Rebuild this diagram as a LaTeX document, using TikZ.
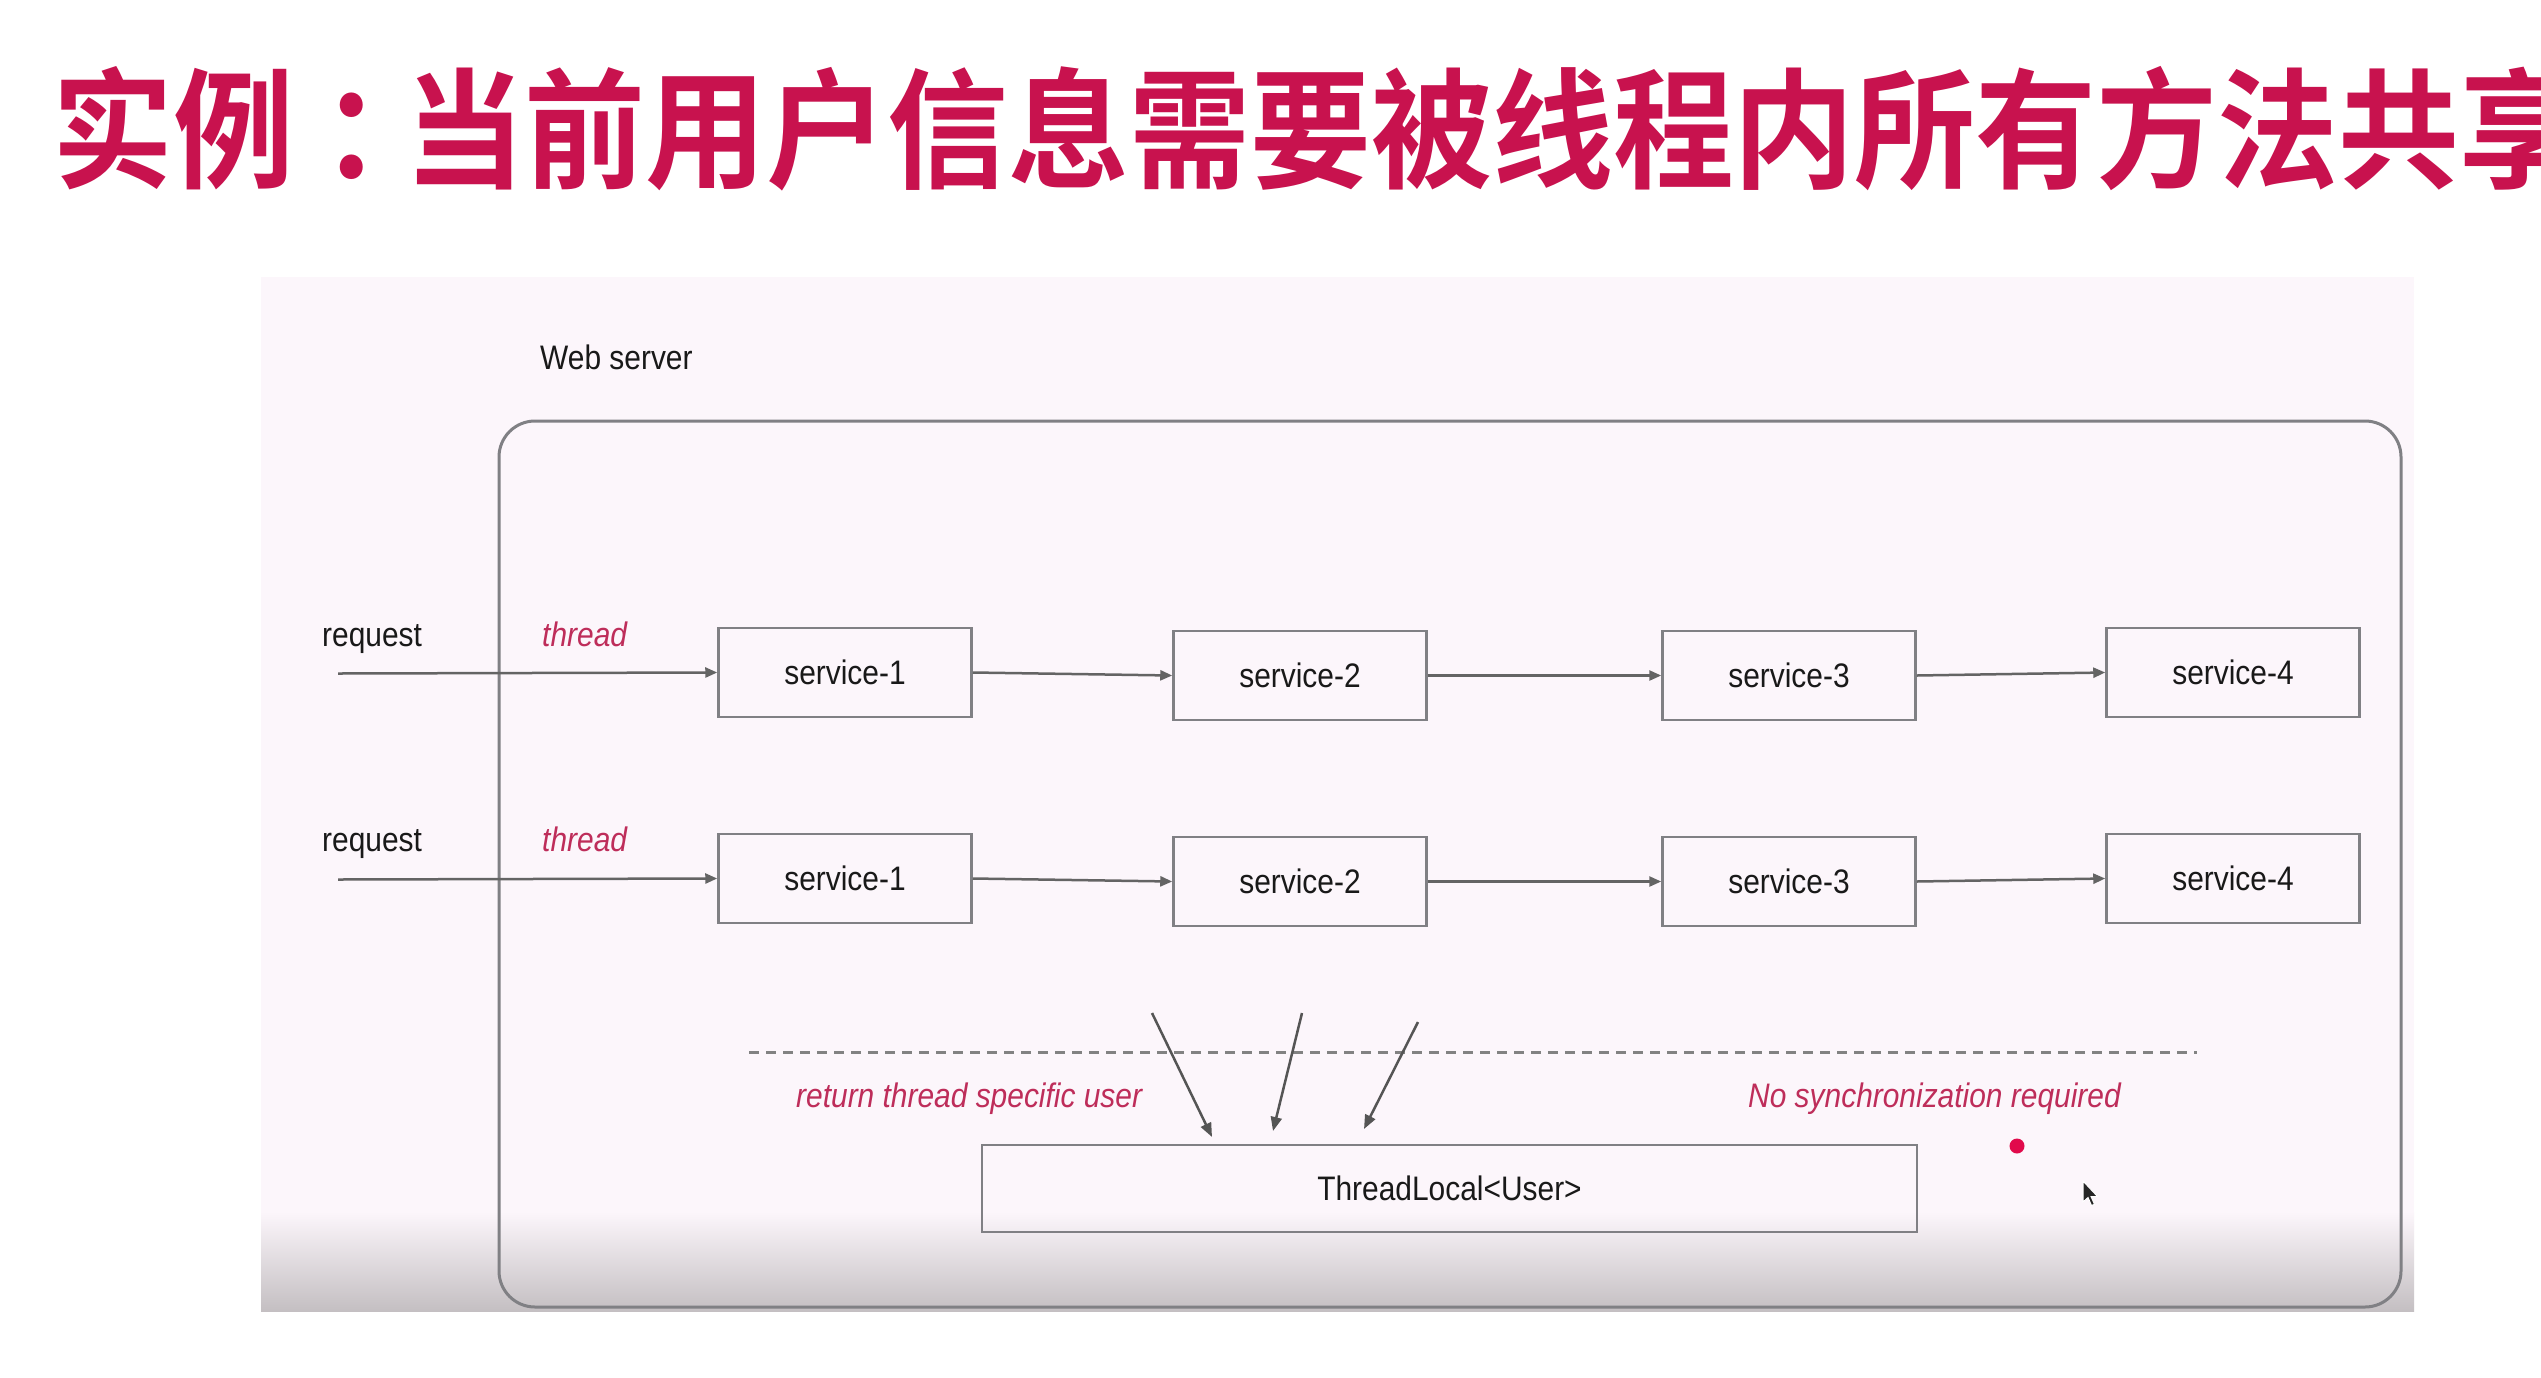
\documentclass[tikz,border=0pt]{standalone}
\usepackage{fontspec}
\setmainfont{Liberation Sans}[FakeStretch=0.88]
\newfontfamily\cjk{Noto Sans CJK SC Bold}[FakeStretch=0.93]
\usetikzlibrary{arrows.meta,calc}
\definecolor{titlered}{RGB}{200,18,78}
\definecolor{labelred}{RGB}{190,45,90}
\definecolor{panelbg}{RGB}{252,246,251}
\definecolor{panelbot}{RGB}{196,191,194}
\definecolor{edgegray}{RGB}{128,128,132}
\definecolor{linegray}{RGB}{100,100,100}
\definecolor{arrgray}{RGB}{85,85,85}
\definecolor{dashgray}{RGB}{130,130,130}
\definecolor{dotred}{RGB}{225,10,75}
\definecolor{inkblack}{RGB}{25,25,25}
\tikzset{
  txt/.style={font=\fontsize{34}{40}\selectfont, text=inkblack},
  svc/.style={txt, draw=edgegray, line width=2.5pt, minimum width=253pt, minimum height=89pt, inner sep=0pt},
  lbl/.style={txt, anchor=base west, inner sep=0pt},
  redlbl/.style={lbl, text=labelred, font=\fontsize{34}{40}\selectfont\itshape},
  conn/.style={draw=linegray, line width=2.5pt, -{Triangle[length=12pt,width=10pt]}},
  getarr/.style={draw=arrgray, line width=2.5pt, -{Triangle[length=14pt,width=11pt]}}
}
\begin{document}
\begin{tikzpicture}[x=1pt,y=-1pt]
\useasboundingbox (0,0) rectangle (2541,1377);
\fill[white] (0,0) rectangle (2541,1377);
% title
\node[anchor=base west, inner sep=0pt, text=titlered, font=\cjk\fontsize{130}{130}\selectfont] (title) at (52,178) {实例\kern28pt：\kern-39pt 当前用户信息需要被线程内所有方法共享};
% panel
\fill[panelbg] (261,277) rectangle (2414,1311);
\shade[top color=panelbg, bottom color=panelbot] (261,1212) rectangle (2414,1311);
% server container
\node[draw=edgegray, line width=3pt, rounded corners=36pt, minimum width=1902pt, minimum height=886pt, inner sep=0pt] (server) at (1450,864) {};
\node[lbl] (web) at (540,369) {Web server};
% row 1
\node[svc] (s11) at (845,672.5) {service-1};
\node[svc] (s12) at (1300,675.5) {service-2};
\node[svc] (s13) at (1789,675.5) {service-3};
\node[svc] (s14) at (2233,672.5) {service-4};
% row 2
\node[svc] (s21) at (845,878.5) {service-1};
\node[svc] (s22) at (1300,881.5) {service-2};
\node[svc] (s23) at (1789,881.5) {service-3};
\node[svc] (s24) at (2233,878.5) {service-4};
% labels
\node[lbl] (req1) at (322,646) {request};
\node[lbl] (req2) at (322,851) {request};
\node[redlbl] (th1) at (542,646) {thread};
\node[redlbl] (th2) at (542,851) {thread};
% request arrows
\coordinate (r1) at (338,673.5);
\coordinate (r2) at (338,879.5);
\draw[conn] (r1) -- (s11.west);
\draw[conn] (r2) -- (s21.west);
% chains
\draw[conn] (s11.east) -- (s12.west);
\draw[conn] (s12.east) -- (s13.west);
\draw[conn] (s13.east) -- (s14.west);
\draw[conn] (s21.east) -- (s22.west);
\draw[conn] (s22.east) -- (s23.west);
\draw[conn] (s23.east) -- (s24.west);
% dashed separator
\coordinate (dl) at (749,1052);
\coordinate (dr) at (2197,1052);
\draw[dashgray, line width=3pt, dash pattern=on 10pt off 7pt] (dl) -- (dr);
% ThreadLocal
\node[svc, minimum width=935pt, minimum height=87pt] (tl) at (1449.5,1188.5) {ThreadLocal<User>};
\coordinate (a1s) at (1152,1013);
\coordinate (a1e) at (1212,1137);
\coordinate (a2s) at (1302,1013);
\coordinate (a2e) at (1273,1131);
\coordinate (a3s) at (1418,1022);
\coordinate (a3e) at (1364,1129);
\draw[getarr] (a1s) -- (a1e);
\draw[getarr] (a2s) -- (a2e);
\draw[getarr] (a3s) -- (a3e);
\node[redlbl] (ret) at (796,1107) {return thread specific user};
\node[redlbl] (nosync) at (1748,1107) {No synchronization required};
% laser dot and cursor
\node[circle, fill=dotred, minimum size=15pt, inner sep=0pt] (dot) at (2017,1146) {};
\coordinate (cur) at (2083,1181);
\filldraw[fill=black!85, draw=white, line width=1pt, shift={(cur)}] (0,0) -- (0,21) -- (5,16.5) -- (8.5,24.5) -- (11.5,23.3) -- (8,15.5) -- (14.5,15.5) -- cycle;
\end{tikzpicture}
\end{document}
